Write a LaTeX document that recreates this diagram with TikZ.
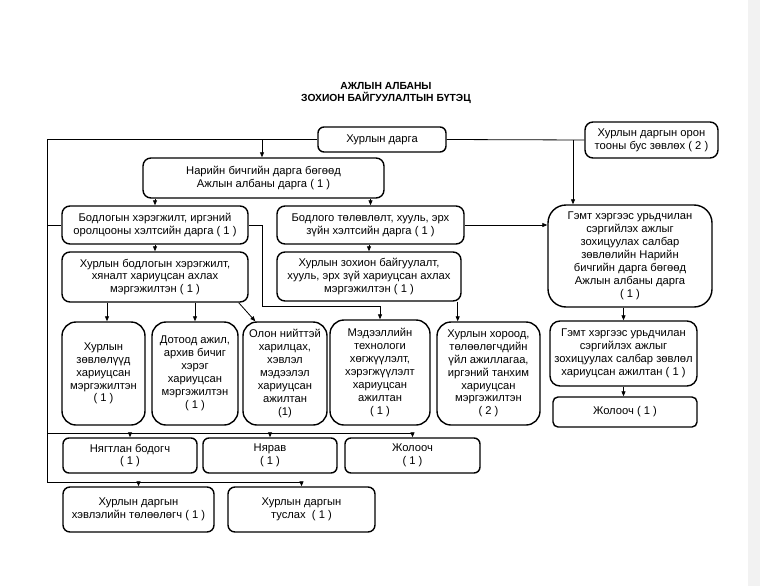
\documentclass[tikz,border=0pt]{standalone}
\usepackage{fontspec}
\setmainfont{Liberation Sans}
\usetikzlibrary{arrows.meta}
\begin{document}
\begin{tikzpicture}[x=1pt,y=-1pt,
  box/.style={draw, line width=1.4pt, rounded corners=8pt, align=center, inner sep=0pt,
    font=\fontsize{11.2}{12.9}\selectfont},
  conn/.style={line width=0.8pt},
  arr/.style={conn, -{Triangle[length=5pt,width=4pt]}}]
\fill[white] (0,0) rectangle (760,586);
\useasboundingbox (0,0) rectangle (760,586);
\fill[black!5] (748,0) rectangle (760,586);

\node[font=\bfseries\fontsize{10.3}{12}\selectfont, align=center] (title) at (386,93)
  {АЖЛЫН АЛБАНЫ\\ЗОХИОН БАЙГУУЛАЛТЫН БҮТЭЦ};

\node[box, minimum width=128pt, minimum height=25pt, rounded corners=6pt] (dar) at (382,139.5) {Хурлын дарга};
\node[box, minimum width=133pt, minimum height=36pt] (zov) at (651.5,140) {Хурлын даргын орон\\тооны бус зөвлөх ( 2 )};
\node[box, minimum width=241pt, minimum height=40pt] (nar) at (263.5,178) {Нарийн бичгийн дарга бөгөөд\\Ажлын албаны дарга ( 1 )};
\node[box, minimum width=186pt, minimum height=38pt] (bh) at (155,225) {Бодлогын хэрэгжилт, иргэний\\оролцооны хэлтсийн дарга ( 1 )};
\node[box, minimum width=187pt, minimum height=38pt] (bt) at (370.5,225) {Бодлого төлөвлөлт, хууль, эрх\\зүйн хэлтсийн дарга ( 1 )};
\node[box, minimum width=186pt, minimum height=50pt] (hb) at (155,277) {Хурлын бодлогын хэрэгжилт,\\хяналт хариуцсан ахлах\\мэргэжилтэн ( 1 )};
\node[box, minimum width=184pt, minimum height=49pt] (hz) at (369,276.5) {Хурлын зохион байгуулалт,\\хууль, эрх зүй хариуцсан ахлах\\мэргэжилтэн ( 1 )};
\node[box, minimum width=164pt, minimum height=102pt, rounded corners=18pt] (gm1) at (630,256) {Гэмт хэргээс урьдчилан\\сэргийлэх ажлыг\\зохицуулах салбар\\зөвлөлийн Нарийн\\бичгийн дарга бөгөөд\\Ажлын албаны дарга\\( 1 )};
\node[box, minimum width=147pt, minimum height=65pt, rounded corners=10pt] (gm2) at (623.5,353.5) {Гэмт хэргээс урьдчилан\\сэргийлэх ажлыг\\зохицуулах салбар зөвлөл\\хариуцсан ажилтан ( 1 )};
\node[box, minimum width=144pt, minimum height=30pt, rounded corners=5pt] (jol1) at (625,412) {Жолооч ( 1 )};

\node[box, minimum width=83pt, minimum height=103pt, rounded corners=14pt] (m1) at (103.5,373.5) {Хурлын\\зөвлөлүүд\\хариуцсан\\мэргэжилтэн\\( 1 )};
\node[box, minimum width=86pt, minimum height=103pt, rounded corners=14pt] (m2) at (195,373.5) {Дотоод ажил,\\архив бичиг\\хэрэг\\хариуцсан\\мэргэжилтэн\\( 1 )};
\node[box, minimum width=84pt, minimum height=103pt, rounded corners=14pt] (m3) at (285,373.5) {Олон нийттэй\\харилцах,\\хэвлэл\\мэдээлэл\\хариуцсан\\ажилтан\\(1)};
\node[box, minimum width=100pt, minimum height=105pt, rounded corners=14pt] (m4) at (380,372.5) {Мэдээллийн\\технологи\\хөгжүүлэлт,\\хэрэгжүүлэлт\\хариуцсан\\ажилтан\\( 1 )};
\node[box, minimum width=103pt, minimum height=103pt, rounded corners=14pt] (m5) at (488.5,373.5) {Хурлын хороод,\\төлөөлөгчдийн\\үйл ажиллагаа,\\иргэний танхим\\хариуцсан\\мэргэжилтэн\\( 2 )};

\node[box, minimum width=134pt, minimum height=35pt, rounded corners=6pt] (n1) at (130,455.5) {Нягтлан бодогч\\( 1 )};
\node[box, minimum width=134pt, minimum height=35pt, rounded corners=6pt] (n2) at (270,455.5) {Нярав\\( 1 )};
\node[box, minimum width=135pt, minimum height=35pt, rounded corners=6pt] (n3) at (412.5,455.5) {Жолооч\\( 1 )};
\node[box, minimum width=151pt, minimum height=45pt, rounded corners=7pt] (b1) at (138.5,509.5) {Хурлын даргын\\хэвлэлийн төлөөлөгч ( 1 )};
\node[box, minimum width=147pt, minimum height=45pt, rounded corners=7pt] (b2) at (301.5,509.5) {Хурлын даргын\\туслах\ \ ( 1 )};

% connectors
\coordinate (ltop) at (47,139.5);
\coordinate (lmid) at (47,433);
\coordinate (lbot) at (47,482);
\coordinate (g) at (573,140);
\coordinate (r1) at (262,306);
\draw[conn] (dar.west) -- (ltop) -- (lbot);
\draw[conn] (dar.east) -- (zov.west);
\draw[conn] (ltop |- bh.west) -- (bh.west);
\draw[arr] (lmid) -| (n3.north);
\draw[arr] (lmid -| n1.north) -- (n1.north);
\draw[arr] (lmid -| n2.north) -- (n2.north);
\draw[arr] (lbot) -| (b2.north);
\draw[arr] (lbot -| b1.north) -- (b1.north);
\draw[arr] ([xshift=-1.5pt]ltop -| nar.north) -- ([xshift=-1.5pt]nar.north);
\draw[arr] (g) -- (g |- gm1.north);
\draw[arr] (nar.south -| bh.north) -- (bh.north);
\draw[arr] (nar.south -| bt.north) -- (bt.north);
\draw[arr] (bh.south) -- (hb.north);
\draw[arr] (bt.south -| hz.north) -- (hz.north);
\draw[arr] (bh.east) -| (r1) -| (m4.north);
\draw[arr] (bt.east) -- (bt.east -| gm1.west);
\draw[arr] ([xshift=3.5pt]hb.south -| m1.north) -- ([xshift=3.5pt]m1.north);
\draw[arr] (hb.south -| m2.north) -- (m2.north);
\draw[arr] ([xshift=-10pt]hb.south east) -- ([xshift=13pt]m3.north west);
\draw[arr] ([xshift=-4pt]hz.south east) -- ([xshift=-4pt]hz.south east |- m5.north);
\draw[arr] (gm1.south -| gm2.north) -- (gm2.north);
\draw[arr] (gm2.south) -- (gm2.south |- jol1.north);
\end{tikzpicture}
\end{document}
